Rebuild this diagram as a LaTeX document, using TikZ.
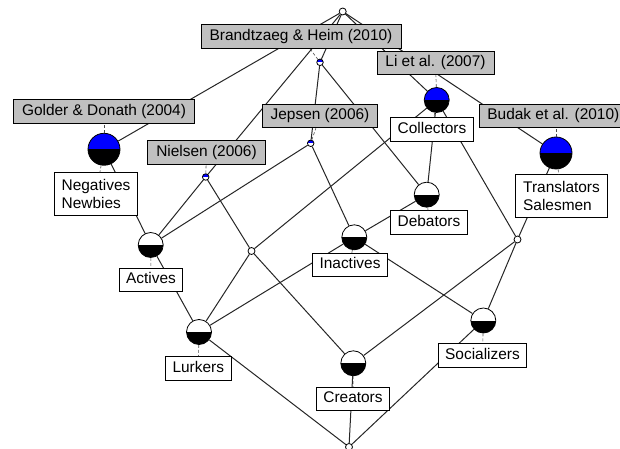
\documentclass[tikz,border=0pt]{standalone}
\usepackage{fontspec}
\setmainfont{Liberation Sans}
\usepackage{tikz}

\definecolor{attrgray}{RGB}{192,192,192}
\definecolor{attrblue}{RGB}{0,0,255}

\begin{document}
\begin{tikzpicture}[x=1bp, y=-1bp,
    every node/.style={font=\fontsize{15.5}{18}\selectfont},
    halfconc/.style n args={3}{circle, draw, line width=0.8bp, inner sep=0pt, minimum size=#1,
      path picture={
        \fill[#2] (path picture bounding box.west) rectangle (path picture bounding box.north east);
        \fill[#3] (path picture bounding box.west) rectangle (path picture bounding box.south east);}},
    bigconc/.style={halfconc={32bp}{attrblue}{black}},
    bothconc/.style={halfconc={25bp}{attrblue}{black}},
    objconc/.style={halfconc={25bp}{white}{black}},
    attrconc/.style={halfconc={6.5bp}{attrblue}{white}},
    emptyconc/.style={circle, draw, line width=0.8bp, fill=white, inner sep=0pt, minimum size=7bp},
    link/.style={line width=1bp, black!85},
    conn/.style={densely dashed, line width=0.6bp, black!70},
    attrlab/.style={draw, line width=0.8bp, fill=attrgray, inner xsep=8.5bp, inner ysep=4.5bp,
      text height=11bp, text depth=3.5bp},
    objlab/.style={draw, line width=0.8bp, fill=white, inner xsep=7bp, inner ysep=4.5bp,
      text height=11bp, text depth=3.5bp},
    objlab2/.style={draw, line width=0.8bp, fill=white, inner xsep=7.5bp, inner ysep=6.5bp, align=left}]

  \useasboundingbox (0,0) rectangle (620,449);
  \clip (0,0) rectangle (620,449);

  % concepts
  \node[emptyconc] (top) at (342.7,11.5) {};
  \node[attrconc] (bh) at (320,62.3) {};
  \node[bothconc] (li) at (436.7,100) {};
  \node[bigconc] (gold) at (104,149.3) {};
  \node[bigconc] (bud) at (556,153) {};
  \node[attrconc] (jep) at (310.7,143.3) {};
  \node[attrconc] (niel) at (205.7,177) {};
  \node[objconc] (deb) at (426.7,194.7) {};
  \node[objconc] (act) at (150.7,245) {};
  \node[emptyconc] (sl) at (251.5,251) {};
  \node[objconc] (inact) at (354.3,237.3) {};
  \node[emptyconc] (sr) at (517.5,239.5) {};
  \node[objconc] (lurk) at (199,332) {};
  \node[objconc] (soc) at (483.3,320.5) {};
  \node[objconc] (crea) at (353.3,363.3) {};
  \node[emptyconc] (bot) at (349,447) {};

  \draw[link] (top) -- (gold);
  \draw[link] (top) -- (niel);
  \draw[link] (top) -- (bh);
  \draw[link] (top) -- (li);
  \draw[link] (top) -- (bud);
  \draw[link] (bh) -- (jep);
  \draw[link] (bh) -- (deb);
  \draw[link] (gold) -- (act);
  \draw[link] (niel) -- (act);
  \draw[link] (niel) -- (sl);
  \draw[link] (jep) -- (act);
  \draw[link] (jep) -- (inact);
  \draw[link] (li) -- (deb);
  \draw[link] (li) -- (sl);
  \draw[link] (li) -- (sr);
  \draw[link] (bud) -- (sr);
  \draw[link] (deb) -- (inact);
  \draw[link] (act) -- (lurk);
  \draw[link] (sl) -- (lurk);
  \draw[link] (sl) -- (crea);
  \draw[link] (inact) -- (lurk);
  \draw[link] (inact) -- (soc);
  \draw[link] (sr) -- (crea);
  \draw[link] (sr) -- (soc);
  \draw[link] (lurk) -- (bot);
  \draw[link] (crea) -- (bot);
  \draw[link] (soc) -- (bot);

  % papers
  \node[attrlab] (bhL) at (301,36.6) {Brandtzaeg \& Heim (2010)};
  \node[attrlab] (liL) at (435.5,63) {Li et al. (2007)};
  \node[attrlab] (goldL) at (104,111.5) {Golder \& Donath (2004)};
  \node[attrlab, anchor=west] (budL) at (478.5,116) {Budak et al. (2010)};
  \node[attrlab] (jepL) at (320,116) {Jepsen (2006)};
  \node[attrlab] (nielL) at (206.5,152.5) {Nielsen (2006)};

  % user types
  \node[objlab2] (negL) at (96,194) {Negatives\\Newbies};
  \node[objlab] (colL) at (432,129.5) {Collectors};
  \node[objlab2] (transL) at (561.5,196) {Translators\\Salesmen};
  \node[objlab] (debL) at (429,222.5) {Debators};
  \node[objlab] (actL) at (151,280) {Actives};
  \node[objlab] (inactL) at (350,265) {Inactives};
  \node[objlab] (lurkL) at (198.3,368.3) {Lurkers};
  \node[objlab] (socL) at (482.5,355.5) {Socializers};
  \node[objlab] (creaL) at (353,399) {Creators};

  \draw[conn] (bh) -- (bhL);
  \draw[conn] (li) -- (liL);
  \draw[conn] (li) -- (colL);
  \draw[conn] (gold) -- (goldL);
  \draw[conn] (gold) -- (negL);
  \draw[conn] (bud) -- (budL.south -| bud);
  \draw[conn] (bud) -- (transL);
  \draw[conn] (jep) -- (jepL);
  \draw[conn] (niel) -- (nielL);
  \draw[conn] (deb) -- (debL);
  \draw[conn] (act) -- (actL);
  \draw[conn] (inact) -- (inactL);
  \draw[conn] (lurk) -- (lurkL);
  \draw[conn] (soc) -- (socL);
  \draw[conn] (crea) -- (creaL);
\end{tikzpicture}
\end{document}
